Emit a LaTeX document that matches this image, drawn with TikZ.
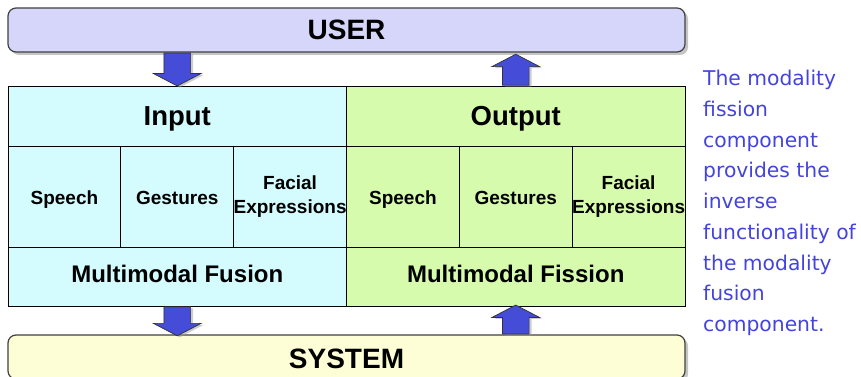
\documentclass[tikz,border=0pt]{standalone}
\usepackage{fontspec}
\setmainfont{Liberation Sans}
\newfontfamily\notefont{DejaVu Sans}
\usetikzlibrary{shapes.arrows,shadows,positioning,calc}

\definecolor{userfill}{RGB}{214,214,250}
\definecolor{sysfill}{RGB}{254,254,214}
\definecolor{infill}{RGB}{212,251,253}
\definecolor{outfill}{RGB}{214,251,172}
\definecolor{arrowblue}{RGB}{68,76,216}
\definecolor{notecol}{RGB}{68,68,221}

\tikzset{
  endbox/.style={rounded corners=8pt, draw=black!75, line width=1.2pt,
                 minimum width=677pt, minimum height=44pt, inner sep=0,
                 text height=20pt, text depth=0pt,
                 font=\fontsize{28}{30}\selectfont\bfseries,
                 drop shadow={shadow xshift=3pt, shadow yshift=-3pt, fill=black!45}},
  cell/.style={draw=black, line width=0.9pt, inner sep=0, align=center,
               minimum width=112.83pt},
  headcell/.style={cell, minimum width=338.5pt, minimum height=60pt,
                   text height=19.7pt, text depth=0pt,
                   font=\fontsize{27.5}{30}\selectfont\bfseries},
  modecell/.style={cell, minimum height=101pt,
                   font=\fontsize{19}{24}\selectfont\bfseries},
  oneline/.style={text height=15.6pt, text depth=0pt},
  twoline/.style={},
  mergecell/.style={cell, minimum width=338.5pt, minimum height=59pt,
                    text height=17.2pt, text depth=5pt,
                    font=\fontsize{24}{26}\selectfont\bfseries},
  % the arrows are turned upright, so the shaft width comes from inner xsep
  blockarrow/.style={single arrow, draw=black!80, fill=arrowblue, line width=0.7pt,
                     inner xsep=13pt, inner ysep=0pt, minimum width=47pt,
                     single arrow head extend=10.5pt, single arrow tip angle=125,
                     drop shadow={shadow xshift=2.5pt, shadow yshift=-1.5pt, fill=black!40}},
  note/.style={text=notecol, align=left, inner sep=0,
               font=\notefont\fontsize{20.3}{30.75}\selectfont},
}

\begin{document}
\begin{tikzpicture}[x=1pt, y=-1pt]
  \useasboundingbox (0,0) rectangle (861,377);

  % user and system bars
  \node[endbox, fill=userfill] (user) at (346.5, 30) {USER};
  \node[endbox, fill=sysfill, text height=22pt] (system) at (346.5, 357) {SYSTEM};

  % the two halves of the table
  \node[headcell, fill=infill]  (inhead)  at (177.25, 116) {Input};
  \node[headcell, fill=outfill] (outhead) at (515.75, 116) {Output};

  \foreach \side/\x/\col in {in/8/infill, out/346.5/outfill} {
    \foreach \i/\mode/\lines in {1/Speech/oneline, 2/Gestures/oneline,
                                 3/{Facial\\Expressions}/twoline} {
      \pgfmathsetmacro{\cx}{\x + (\i - 0.5)*112.83}
      \node[modecell, \lines, fill=\col] (\side mode\i) at (\cx, 196.5) {\mode};
    }
  }

  \node[mergecell, fill=infill]  (fusion)  at (177.25, 276.5) {Multimodal Fusion};
  \node[mergecell, fill=outfill] (fission) at (515.75, 276.5) {Multimodal Fission};

  % block arrows between the bars and the table
  \node[blockarrow, shape border rotate=270, minimum height=33pt, anchor=tail]
    (touser) at (user.south -| inhead) {};
  \node[blockarrow, shape border rotate=90, minimum height=31pt, anchor=tail]
    (fromuser) at (outhead.north) {};
  \node[blockarrow, shape border rotate=270, minimum height=29pt, anchor=tail]
    (tosystem) at (fusion.south) {};
  \node[blockarrow, shape border rotate=90, minimum height=29pt, anchor=tail]
    (fromsystem) at (system.north -| fission) {};

  % side remark
  \node[note, anchor=north west] (fissionnote) at (703, 70)
    {The modality\\fission\\component\\provides the\\inverse\\functionality of\\the modality\\fusion\\component.};
\end{tikzpicture}
\end{document}
